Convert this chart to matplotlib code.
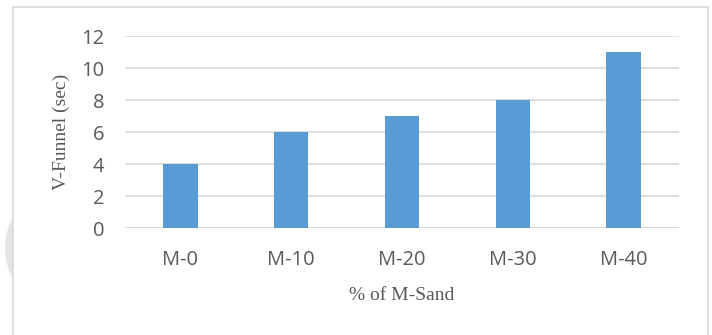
import matplotlib
matplotlib.use("Agg")
import matplotlib.pyplot as plt
from matplotlib.patches import Rectangle, Ellipse

categories = ["M-0", "M-10", "M-20", "M-30", "M-40"]
v_funnel = [4, 6, 7, 8, 11]
y_ticks = [0, 2, 4, 6, 8, 10, 12]

W, H = 712, 335
fig = plt.figure(figsize=(W / 100, H / 100), dpi=100)
fig.patch.set_facecolor("white")

# faint round mark behind the chart frame, only its left edge shows
mark = Ellipse((69 / W, 1 - 248 / H), 128 / W, 128 / H, transform=fig.transFigure,
               facecolor="#e4e4e4", edgecolor="none")
mark.set_zorder(0)
fig.add_artist(mark)
frame = Rectangle((13 / W, -0.05), (708 - 13) / W, 1.05 - 7 / H,
                  transform=fig.transFigure, facecolor="white",
                  edgecolor="#d9d9d9", linewidth=1.2)
frame.set_zorder(0.5)
fig.add_artist(frame)

ax = fig.add_axes([125 / W, 1 - 228 / H, (679 - 125) / W, (228 - 36) / H])
ax.set_facecolor("none")
ax.set_zorder(2)

x = range(len(categories))
ax.bar(x, v_funnel, width=0.31, color="#5b9bd5", zorder=3)

ax.set_xlim(-0.5, len(categories) - 0.5)
ax.set_ylim(0, 12)
ax.set_yticks(y_ticks)
ax.set_xticks(list(x))
ax.set_xticklabels(categories)

ax.yaxis.grid(True, color="#d9d9d9", linewidth=1.2, zorder=0)
ax.set_axisbelow(True)
for s in ax.spines.values():
    s.set_visible(False)
ax.axhline(0, color="#d9d9d9", linewidth=1.2, zorder=2)

ax.tick_params(axis="both", length=0, labelsize=14.5, labelcolor="#595959")
ax.tick_params(axis="y", pad=15)
ax.tick_params(axis="x", pad=16)
for lab in ax.get_xticklabels() + ax.get_yticklabels():
    lab.set_fontfamily("Open Sans")

ax.set_ylabel("V-Funnel (sec)", family="Liberation Serif", fontsize=14,
              color="#595959", labelpad=8)
ax.set_xlabel("% of M-Sand", family="Liberation Serif", fontsize=14,
              color="#595959", labelpad=12)

fig.savefig("out.png", dpi=100, facecolor="white")
